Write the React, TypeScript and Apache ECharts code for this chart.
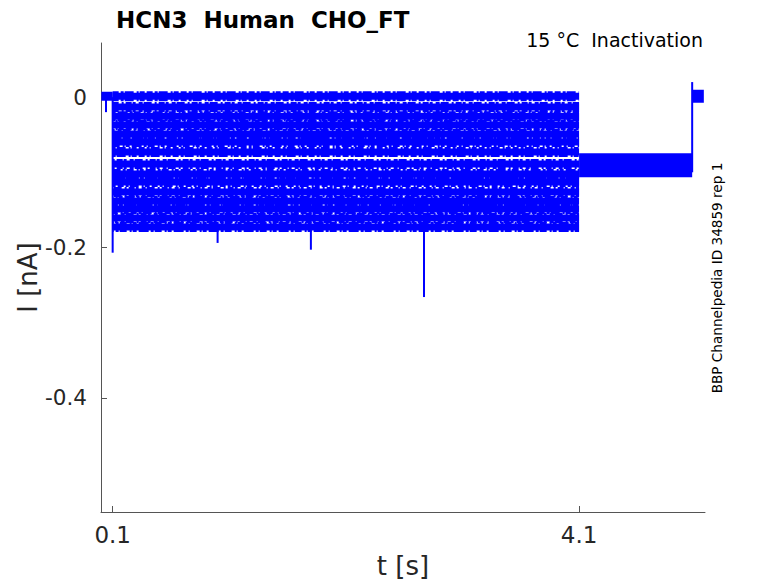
import React, { useEffect, useRef } from "react";
import * as echarts from "echarts";

// Protocol times (s)
const tStart = 0.003;
const tStepOn = 0.1;
const tStepOff = 4.1;
const tTailOn = 5.07;
const tEnd = 5.17;

// Current level of each sweep during the test step (nA)
const traceLevels = [
  0.001, -0.0133, -0.0253, -0.0372, -0.0492, -0.0598, -0.0731, -0.0891,
  -0.1024, -0.113, -0.1263, -0.1383, -0.149, -0.1609, -0.1729,
];
// Common levels
const holdLevel = -0.0905; // 4.1 s – 5.07 s
const baseLevel = 0.001; // before 0.1 s and after 5.07 s

// Brief spikes: [time, from, to]
const spikes: [number, number, number][] = [
  [0.1, 0.0, -0.207],
  [0.043, 0.0, -0.02],
  [1.0, -0.175, -0.194],
  [1.8, -0.175, -0.203],
  [2.77, -0.17, -0.266],
  [5.07, -0.1, 0.02],
];

const xTicks = [0.1, 4.1];
const yTicks = [-0.4, -0.2, 0];

const BLUE = "#0000ff";
const FONT = "DejaVu Sans";

// dash patterns used to give the noisy band a broken texture
const noiseDash = [
  [6, 2, 3, 1, 9, 3, 2, 1, 5, 2],
  [4, 1, 8, 3, 2, 2, 6, 1, 3, 3],
  [7, 3, 2, 1, 4, 2, 10, 2, 3, 1],
];

export default function App() {
  const ref = useRef<HTMLDivElement>(null);
  useEffect(() => {
    const chart = echarts.init(ref.current!, null, { renderer: "svg" });
    const series: any[] = [];
    series.push({
      type: "line",
      data: [
        [tStart, baseLevel],
        [tStepOn, baseLevel],
      ],
      lineStyle: { width: 9, color: BLUE },
    });
    traceLevels.forEach((lvl, i) => {
      const d = [
        [tStepOn, lvl],
        [tStepOff, lvl],
      ];
      series.push({ type: "line", data: d, lineStyle: { width: 7, color: BLUE } });
      series.push({
        type: "line",
        data: d,
        lineStyle: {
          width: 10,
          color: BLUE,
          type: noiseDash[i % noiseDash.length],
          dashOffset: i * 7,
        },
      });
    });
    series.push({
      type: "line",
      data: [
        [tStepOff, holdLevel],
        [tTailOn, holdLevel],
      ],
      lineStyle: { width: 24, color: BLUE },
    });
    series.push({
      type: "line",
      data: [
        [tTailOn, baseLevel],
        [tEnd, baseLevel],
      ],
      lineStyle: { width: 13, color: BLUE },
    });
    spikes.forEach(([t, a, b]) => {
      series.push({
        type: "line",
        data: [
          [t, a],
          [t, b],
        ],
        lineStyle: { width: 2, color: BLUE },
      });
    });
    series.forEach((s) => {
      s.showSymbol = false;
      s.symbol = "none";
      s.silent = true;
      s.lineStyle.cap = "butt";
    });

    chart.setOption({
      animation: false,
      backgroundColor: "#ffffff",
      title: {
        text: "HCN3  Human  CHO_FT",
        left: 111,
        top: 3,
        textStyle: { fontFamily: FONT, fontSize: 23, fontWeight: "bold", color: "#000" },
      },
      grid: { left: 101, top: 43, right: 73, bottom: 71, containLabel: false, outerBoundsMode: "none" },
      xAxis: {
        type: "value",
        min: 0,
        max: 5.18,
        name: "t [s]",
        nameLocation: "middle",
        nameGap: 41,
        nameMoveOverlap: false,
        nameTextStyle: { fontFamily: FONT, fontSize: 26, color: "#262626" },
        axisLine: { show: true, onZero: false, lineStyle: { color: "#555", width: 1 } },
        axisTick: { show: true, inside: true, length: 6, customValues: xTicks, lineStyle: { color: "#555" } },
        axisLabel: {
          customValues: xTicks,
          formatter: (v: number) => String(Math.round(v * 10) / 10),
          fontFamily: FONT,
          fontSize: 23,
          color: "#262626",
          margin: 11,
        },
        splitLine: { show: false },
      },
      yAxis: {
        type: "value",
        min: -0.552,
        max: 0.072,
        name: "I [nA]",
        nameLocation: "middle",
        nameGap: 60,
        nameMoveOverlap: false,
        nameRotate: 90,
        nameTextStyle: { fontFamily: FONT, fontSize: 26, color: "#262626" },
        axisLine: { show: true, onZero: false, lineStyle: { color: "#555", width: 1 } },
        axisTick: { show: true, inside: true, length: 6, customValues: yTicks, lineStyle: { color: "#555" } },
        axisLabel: {
          customValues: yTicks,
          formatter: (v: number) => (Math.abs(v) < 1e-9 ? "0" : String(Math.round(v * 10) / 10)),
          fontFamily: FONT,
          fontSize: 21.5,
          color: "#262626",
          margin: 14,
        },
        splitLine: { show: false },
      },
      graphic: [
        {
          type: "text",
          right: 75,
          top: 30,
          style: { text: "15 °C  Inactivation", fontFamily: FONT, fontSize: 19, fill: "#000" },
        },
        {
          type: "text",
          x: 717,
          y: 278,
          rotation: Math.PI / 2,
          style: {
            text: "BBP Channelpedia ID 34859 rep 1",
            fontFamily: FONT,
            fontSize: 13.6,
            fill: "#000",
            align: "center",
            verticalAlign: "middle",
          },
        },
      ],
      series,
    });
    return () => chart.dispose();
  }, []);
  return <div ref={ref} style={{ width: 778, height: 583, position: "absolute", left: 0, top: 0 }} />;
}
